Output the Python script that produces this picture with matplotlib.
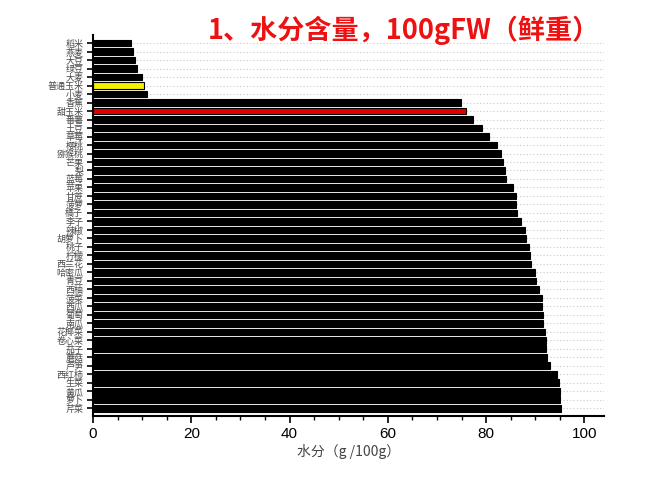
import matplotlib
matplotlib.use("Agg")
import matplotlib.pyplot as plt
from matplotlib.ticker import MultipleLocator

plt.rcParams['font.family'] = ['Noto Sans CJK SC', 'DejaVu Sans']

# 食物（自上而下）及水分含量 g/100g
foods = [
    "稻米", "燕麦", "大豆", "绿豆", "大麦", "普通玉米", "小麦", "香蕉", "甜玉米",
    "番薯", "土豆", "草莓", "樱桃", "猕猴桃", "芒果", "梨", "蓝莓", "苹果", "甘蔗",
    "菠萝", "橘子", "李子", "辣椒", "胡萝卜", "桃子", "柠檬", "西兰花", "哈密瓜",
    "青豆", "西柚", "菠菜", "西瓜", "葡萄", "南瓜", "花椰菜", "卷心菜", "茄子",
    "蘑菇", "芦笋", "西红柿", "生菜", "黄瓜", "萝卜", "芹菜",
]
water = [
    7.7, 8.1, 8.5, 8.9, 10.0, 10.3, 11.0, 74.8, 75.9,
    77.3, 79.2, 80.6, 82.2, 83.0, 83.4, 83.9, 84.1, 85.5, 86.0,
    86.0, 86.2, 87.1, 87.9, 88.2, 88.8, 89.0, 89.2, 90.0,
    90.2, 90.8, 91.3, 91.3, 91.5, 91.5, 91.9, 92.1, 92.2,
    92.3, 93.1, 94.4, 94.9, 95.0, 95.1, 95.3,
]
highlight = {"普通玉米": "#f5f000", "甜玉米": "#e00000"}

fig = plt.figure(figsize=(6.5, 4.87), dpi=100)
ax = fig.add_axes([93 / 650, 1 - 416 / 487, 511 / 650, 381 / 487])

ypos = list(range(len(foods)))
colors = [highlight.get(f, "black") for f in foods]

# 虚线网格（每个条形一条）
for y in ypos:
    ax.axhline(y, color="#c8c8c8", lw=0.8, ls=(0, (1, 2)), zorder=0)

ax.barh(ypos, water, height=0.8, color=colors, edgecolor="black", lw=0.8, zorder=2)

ax.set_xlim(0, 104)
ax.set_ylim(len(foods) - 0.1, -0.95)
ax.set_yticks(ypos)
ax.set_yticklabels(foods, fontsize=6.5, color="#4a4a4a")
ax.xaxis.set_major_locator(MultipleLocator(20))
ax.xaxis.set_minor_locator(MultipleLocator(5))
for lab in ax.get_xticklabels():
    lab.set_family(["Liberation Sans", "DejaVu Sans"])
ax.tick_params(axis="x", which="major", direction="out", length=5, width=1.2, labelsize=11, pad=3)
ax.tick_params(axis="x", which="minor", direction="out", length=3, width=1.0)
ax.tick_params(axis="y", direction="out", length=4, width=1.2, pad=3)

for side in ("top", "right"):
    ax.spines[side].set_visible(False)
for side in ("left", "bottom"):
    ax.spines[side].set_linewidth(1.5)

ax.set_xlabel("水分（g /100g）", fontsize=10, color="#444444", labelpad=2)

fig.text(0.622, 0.938, "1、水分含量，100gFW（鲜重）", ha="center", va="center",
         fontsize=19.5, fontweight="bold", color="#ee1111")

fig.savefig("out.png", dpi=100, facecolor="white")
